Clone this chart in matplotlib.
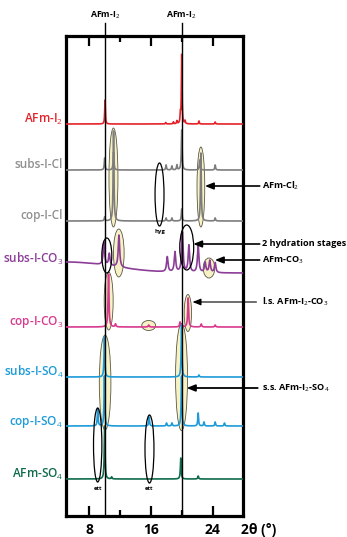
import numpy as np
import matplotlib
matplotlib.use("Agg")
import matplotlib.pyplot as plt
from matplotlib.patches import Ellipse

plt.rcParams['font.family'] = ['Open Sans', 'DejaVu Sans']
plt.rcParams['mathtext.fontset'] = 'custom'
plt.rcParams['mathtext.rm'] = 'Open Sans'
plt.rcParams['mathtext.it'] = 'Open Sans:italic'
plt.rcParams['mathtext.bf'] = 'Open Sans:bold'

# ---- diffraction data: peak positions (2θ, °) and intensities (a.u.) ----
labels = ["AFm-I$_2$", "subs-I-Cl", "cop-I-Cl", "subs-I-CO$_3$",
          "cop-I-CO$_3$", "subs-I-SO$_4$", "cop-I-SO$_4$", "AFm-SO$_4$"]

afm_i2_pos = [10.05, 17.9, 18.9, 19.35, 19.8, 19.97, 20.4, 22.2, 24.3]
afm_i2_int = [24, 1.5, 2, 3, 9, 69, 3, 3, 2]

subs_cl_pos = [10.0, 11.15, 17.95, 18.7, 19.35, 19.97, 22.3, 24.3]
subs_cl_int = [12, 18, 5, 4, 5, 40, 10, 5]

cop_cl_pos = [10.0, 11.15, 17.95, 18.7, 19.97, 22.45, 24.3]
cop_cl_int = [4, 90, 3, 3, 12, 68, 3]

subs_co3_pos = [9.9, 10.6, 11.85, 18.1, 19.1, 20.05, 20.9, 22.1, 23.0, 23.6, 24.3]
subs_co3_int = [23, 12, 32, 15, 20, 40, 27, 27, 10, 12, 10]
# broad low-angle background of subs-I-CO3 (centre, amplitude, spread)
subs_co3_hump = [5.0, 11.0, 6.0]

cop_co3_pos = [10.5, 11.4, 15.7, 19.75, 20.8, 22.5, 24.3]
cop_co3_int = [53, 3, 2, 5, 29, 3, 2]

subs_so4_pos = [9.97, 19.95, 22.2]
subs_so4_int = [40, 52, 2]

cop_so4_pos = [9.1, 9.97, 15.75, 18.0, 18.7, 19.95, 22.1, 22.85, 24.3, 25.5]
cop_so4_int = [17, 50, 9, 3, 3, 50, 13, 4, 4, 3]

afm_so4_pos = [10.0, 10.9, 19.85, 22.1]
afm_so4_int = [53, 2, 21, 3]

ref_lines = [10.05, 19.97]          # AFm-I2 reflections
xticks_major = [8, 16, 24]
xticks_minor = [12, 20]

# ---- layout ----
W, H = 347, 537
fig = plt.figure(figsize=(W / 100, H / 100), dpi=100)
ax_l, ax_r, ax_t, ax_b = 66, 243, 36, 516
ax = fig.add_axes([ax_l / W, 1 - ax_b / H, (ax_r - ax_l) / W, (ax_b - ax_t) / H])
ax.set_xlim(5.0, 27.9)
ax.set_ylim(0, 480)

tt = np.linspace(5.0, 27.9, 6000)


def pattern(pos, inten, hw):
    y = np.zeros_like(tt)
    for p, h in zip(pos, inten):
        y += h / (1 + ((tt - p) / hw) ** 2)
    return y


offsets = [392, 346, 295, 243, 189, 139, 90, 37]
colors = ["#e52229", "#7d7d7d", "#7d7d7d", "#8c3d97",
          "#d8388e", "#1d9bd8", "#1d9bd8", "#0e6b4b"]
label_colors = ["#e52229", "#8f8f8f", "#8f8f8f", "#8c3d97",
                "#d8388e", "#1d9bd8", "#1d9bd8", "#0e6b4b"]

curves = [
    pattern(afm_i2_pos, afm_i2_int, 0.05),
    pattern(subs_cl_pos, subs_cl_int, 0.06),
    pattern(cop_cl_pos, cop_cl_int, 0.06),
    pattern(subs_co3_pos, subs_co3_int, 0.11)
    + subs_co3_hump[1] * np.exp(-0.5 * ((tt - subs_co3_hump[0]) / subs_co3_hump[2]) ** 2),
    pattern(cop_co3_pos, cop_co3_int, 0.07),
    pattern(subs_so4_pos, subs_so4_int, 0.06),
    pattern(cop_so4_pos, cop_so4_int, 0.06),
    pattern(afm_so4_pos, afm_so4_int, 0.06),
]

# highlighted reflections (pale yellow)
yellow = [
    (11.14, 338.5, 1.16, 99), (22.45, 329, 1.0, 80),
    (11.83, 263, 1.38, 48), (23.5, 248, 1.5, 20),
    (10.52, 215, 1.16, 58), (20.77, 203, 0.95, 37),
    (15.7, 190.5, 1.8, 10),
    (10.06, 133.5, 1.5, 95), (19.95, 139, 1.55, 107),
]
for cx, cy, w, h in yellow:
    ax.add_patch(Ellipse((cx, cy), w, h, facecolor="#f7f1c6",
                         edgecolor="#5a5640", lw=0.6, zorder=2))

for yv, y, c in zip(offsets, curves, colors):
    ax.plot(tt, yv + y, color=c, lw=1.2, zorder=3, solid_joinstyle="round")

# outlined features
outlined = [
    (17.1, 321.5, 1.16, 63), (20.62, 268.5, 1.8, 45),
    (10.28, 260.5, 1.29, 35), (9.1, 71, 1.08, 74), (15.8, 67, 1.16, 68),
]
for cx, cy, w, h in outlined:
    ax.add_patch(Ellipse((cx, cy), w, h, facecolor="none",
                         edgecolor="black", lw=0.9, zorder=4))

ax.text(17.1, 284, "hyg", fontsize=4.2, fontweight="bold", ha="center", va="center")
ax.text(9.1, 27, "ett", fontsize=4.2, fontweight="bold", ha="center", va="center")
ax.text(15.8, 27, "ett", fontsize=4.2, fontweight="bold", ha="center", va="center")

# AFm-I2 reference lines
for xr in ref_lines:
    ax.plot([xr, xr], [0, 493], color="black", lw=1.0, zorder=5, clip_on=False)
    ax.text(xr, 501, "AFm-I$_2$", fontsize=6.3, fontweight="bold",
            ha="center", va="center", clip_on=False)

# sample labels
label_y = [392, 346, 295, 252, 189, 139, 90, 37]
for lab, yv, c in zip(labels, label_y, label_colors):
    ax.text(4.65, yv + 1.5, lab, color=c, fontsize=8.5, fontweight="semibold",
            ha="right", va="baseline", clip_on=False)

# annotations
annots = [
    ("AFm-Cl$_2$", 22.97, 330, 30.06, 1.2),
    ("2 hydration stages", 21.46, 272, 30.06, 1.2),
    ("AFm-CO$_3$", 24.26, 256, 30.06, 1.2),
    ("l.s. AFm-I$_2$-CO$_3$", 21.37, 214, 29.64, 0.8),
    ("s.s. AFm-I$_2$-SO$_4$", 20.6, 128, 29.8, 1.3),
]
for txt, xt, yv, xs, lw in annots:
    ax.annotate("", xy=(xt, yv), xytext=(xs, yv), annotation_clip=False,
                arrowprops=dict(arrowstyle="-|>,head_length=0.5,head_width=0.2",
                                color="black", lw=lw, shrinkA=0, shrinkB=0),
                zorder=6)
    ax.text(30.3, yv, txt, fontsize=6.6, fontweight="bold", ha="left",
            va="center", clip_on=False)

# frame and ticks
for s in ax.spines.values():
    s.set_linewidth(2.3)
ax.set_yticks([])
ax.set_xticks(xticks_major)
ax.set_xticks(xticks_minor, minor=True)
ax.set_xticklabels([str(t) for t in xticks_major], fontsize=10, fontweight="bold")
ax.tick_params(axis="x", which="major", direction="in", length=7.5, width=1.6,
               top=True, bottom=True, labeltop=False, pad=5)
ax.tick_params(axis="x", which="minor", direction="in", length=4, width=1.6,
               top=True, bottom=True)
fig.text(259 / W, 1 - 530 / H, "2θ (°)", fontsize=10, fontweight="bold",
         ha="center", va="center")

fig.savefig("out.png", dpi=100)
